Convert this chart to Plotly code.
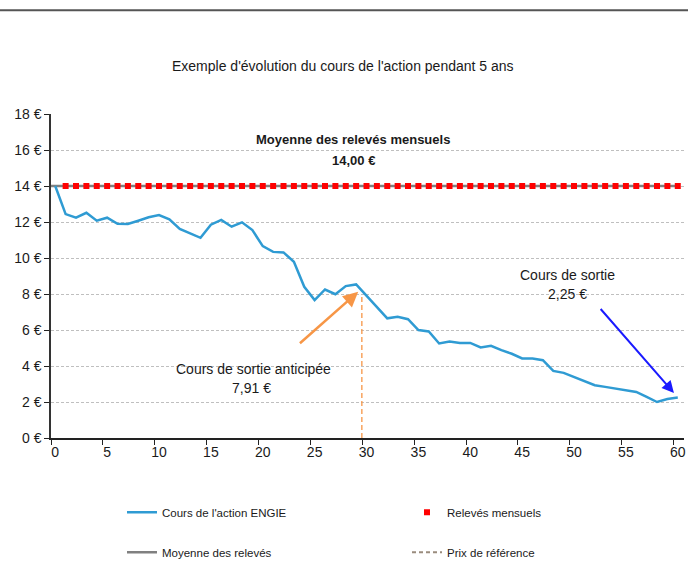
import plotly.graph_objects as go

# ---- data ----
months = list(range(61))
price = [14.0, 12.44, 12.24, 12.51, 12.07, 12.24, 11.9, 11.89, 12.07, 12.26,
         12.39, 12.15, 11.61, 11.37, 11.12, 11.85, 12.12, 11.74, 11.98, 11.55,
         10.66, 10.34, 10.31, 9.79, 8.4, 7.66, 8.25, 7.99, 8.44, 8.53,
         7.91, 7.3, 6.65, 6.73, 6.6, 6.0, 5.92, 5.25, 5.36, 5.28,
         5.28, 5.03, 5.12, 4.88, 4.68, 4.42, 4.42, 4.32, 3.73, 3.62,
         3.39, 3.15, 2.93, 2.84, 2.75, 2.69, 2.56, 2.28, 2.0, 2.17,
         2.25]
releve_months = list(range(1, 61))
releves = [14.0, 14.0, 14.0, 14.0, 14.0, 14.0, 14.0, 14.0, 14.0, 14.0,
           14.0, 14.0, 14.0, 14.0, 14.0, 14.0, 14.0, 14.0, 14.0, 14.0,
           14.0, 14.0, 14.0, 14.0, 14.0, 14.0, 14.0, 14.0, 14.0, 14.0,
           14.0, 14.0, 14.0, 14.0, 14.0, 14.0, 14.0, 14.0, 14.0, 14.0,
           14.0, 14.0, 14.0, 14.0, 14.0, 14.0, 14.0, 14.0, 14.0, 14.0,
           14.0, 14.0, 14.0, 14.0, 14.0, 14.0, 14.0, 14.0, 14.0, 14.0]
moyenne_x = [-0.41, 60]
moyenne = [14.0, 14.0]
ref_month = [29.55, 29.55]
ref_level = [0, 8.0]
x_ticks = [0, 5, 10, 15, 20, 25, 30, 35, 40, 45, 50, 55, 60]
y_ticks = [0, 2, 4, 6, 8, 10, 12, 14, 16, 18]
y_labels = ["0 €", "2 €", "4 €", "6 €", "8 €", "10 €", "12 €", "14 €", "16 €", "18 €"]

FONT = "Liberation Sans Narrow, Arial Narrow, Liberation Sans, Arial, sans-serif"
TXT = "#1a1a1a"

fig = go.Figure()

fig.add_trace(go.Scatter(x=moyenne_x, y=moyenne, mode="lines", name="Moyenne des relevés",
                         line=dict(color="#808080", width=2.5), legend="legend2"))
fig.add_trace(go.Scatter(x=ref_month, y=ref_level, mode="lines", showlegend=False,
                         line=dict(color="#f79646", width=1.3, dash="5px,3px")))
fig.add_trace(go.Scatter(x=[None], y=[None], mode="lines", name="Prix de référence",
                         line=dict(color="#9a8c7e", width=2, dash="4px,3px"), legend="legend2"))
fig.add_trace(go.Scatter(x=months, y=price, mode="lines", name="Cours de l'action ENGIE",
                         line=dict(color="#2f9bd3", width=2.5), legend="legend"))
fig.add_trace(go.Scatter(x=releve_months, y=releves, mode="markers", name="Relevés mensuels",
                         marker=dict(color="#ff0000", size=6, symbol="square"), legend="legend"))

# text annotations
def txt(x, y, s, bold=False, size=14):
    fig.add_annotation(x=x, y=y, xref="x", yref="y", text=("<b>%s</b>" % s) if bold else s,
                       showarrow=False, font=dict(family=FONT, size=size, color=TXT))

txt(28.7, 16.56, "Moyenne des relevés mensuels", bold=True, size=13)
txt(28.7, 15.43, "14,00 €", bold=True, size=13)
txt(19.08, 3.82, "Cours de sortie anticipée")
txt(18.95, 2.76, "7,91 €")
txt(49.4, 9.05, "Cours de sortie")
txt(49.4, 7.99, "2,25 €")

# arrows
fig.add_annotation(x=29.2, y=8.12, ax=23.44, ay=5.19, xref="x", yref="y", axref="x", ayref="y",
                   text="", showarrow=True, arrowhead=2, arrowsize=1.2, arrowwidth=2.5,
                   arrowcolor="#f79646")
fig.add_annotation(x=59.63, y=2.5, ax=52.44, ay=7.25, xref="x", yref="y", axref="x", ayref="y",
                   text="", showarrow=True, arrowhead=2, arrowsize=1.2, arrowwidth=2,
                   arrowcolor="#1a1aff")

# title
fig.add_annotation(x=(343 - 51) / 633, y=(437.7 - 56) / 324, xref="paper", yref="paper",
                   text="Exemple d'évolution du cours de l'action pendant 5 ans", showarrow=False,
                   font=dict(family=FONT, size=14, color=TXT))

# top frame line
fig.add_shape(type="line", xref="paper", yref="paper", x0=-0.09, x1=1.01,
              y0=(437.7 - 10) / 324, y1=(437.7 - 10) / 324,
              line=dict(color="#555555", width=2))

fig.update_layout(
    width=688, height=563,
    margin=dict(l=51, r=4, t=114, b=125, autoexpand=False),
    paper_bgcolor="white", plot_bgcolor="white",
    font=dict(family=FONT, size=13, color=TXT),
    legend=dict(orientation="h", x=(122 - 51) / 633, y=(437.7 - 512) / 324, yanchor="middle",
                xanchor="left", entrywidth=240, entrywidthmode="pixels",
                font=dict(family=FONT, size=11.5, color=TXT), bgcolor="rgba(0,0,0,0)"),
    legend2=dict(orientation="h", x=(122 - 51) / 633, y=(437.7 - 552) / 324, yanchor="middle",
                 xanchor="left", entrywidth=240, entrywidthmode="pixels",
                 font=dict(family=FONT, size=11.5, color=TXT), bgcolor="rgba(0,0,0,0)"),
    xaxis=dict(range=[-0.41, 60.6], tickvals=x_ticks, ticks="", showgrid=False,
               showline=True, linecolor="#222222", linewidth=1.5, zeroline=False,
               tickfont=dict(family=FONT, size=14, color=TXT),
               minor=dict(tick0=-0.41, dtick=5, ticks="outside", ticklen=5, tickcolor="#222222",
                          showgrid=False)),
    yaxis=dict(range=[0, 18], tickvals=y_ticks, ticktext=y_labels, ticks="outside", ticklen=5,
               tickcolor="#222222", showline=True, linecolor="#333333", linewidth=1.5,
               showgrid=True, gridcolor="#bfbfbf", griddash="3px,2px", gridwidth=1,
               zeroline=False, tickfont=dict(family=FONT, size=14, color=TXT)),
)

fig.write_html("out.html", config={"displayModeBar": False},
               post_script="document.body.style.margin='0';document.body.style.overflow='hidden';")
